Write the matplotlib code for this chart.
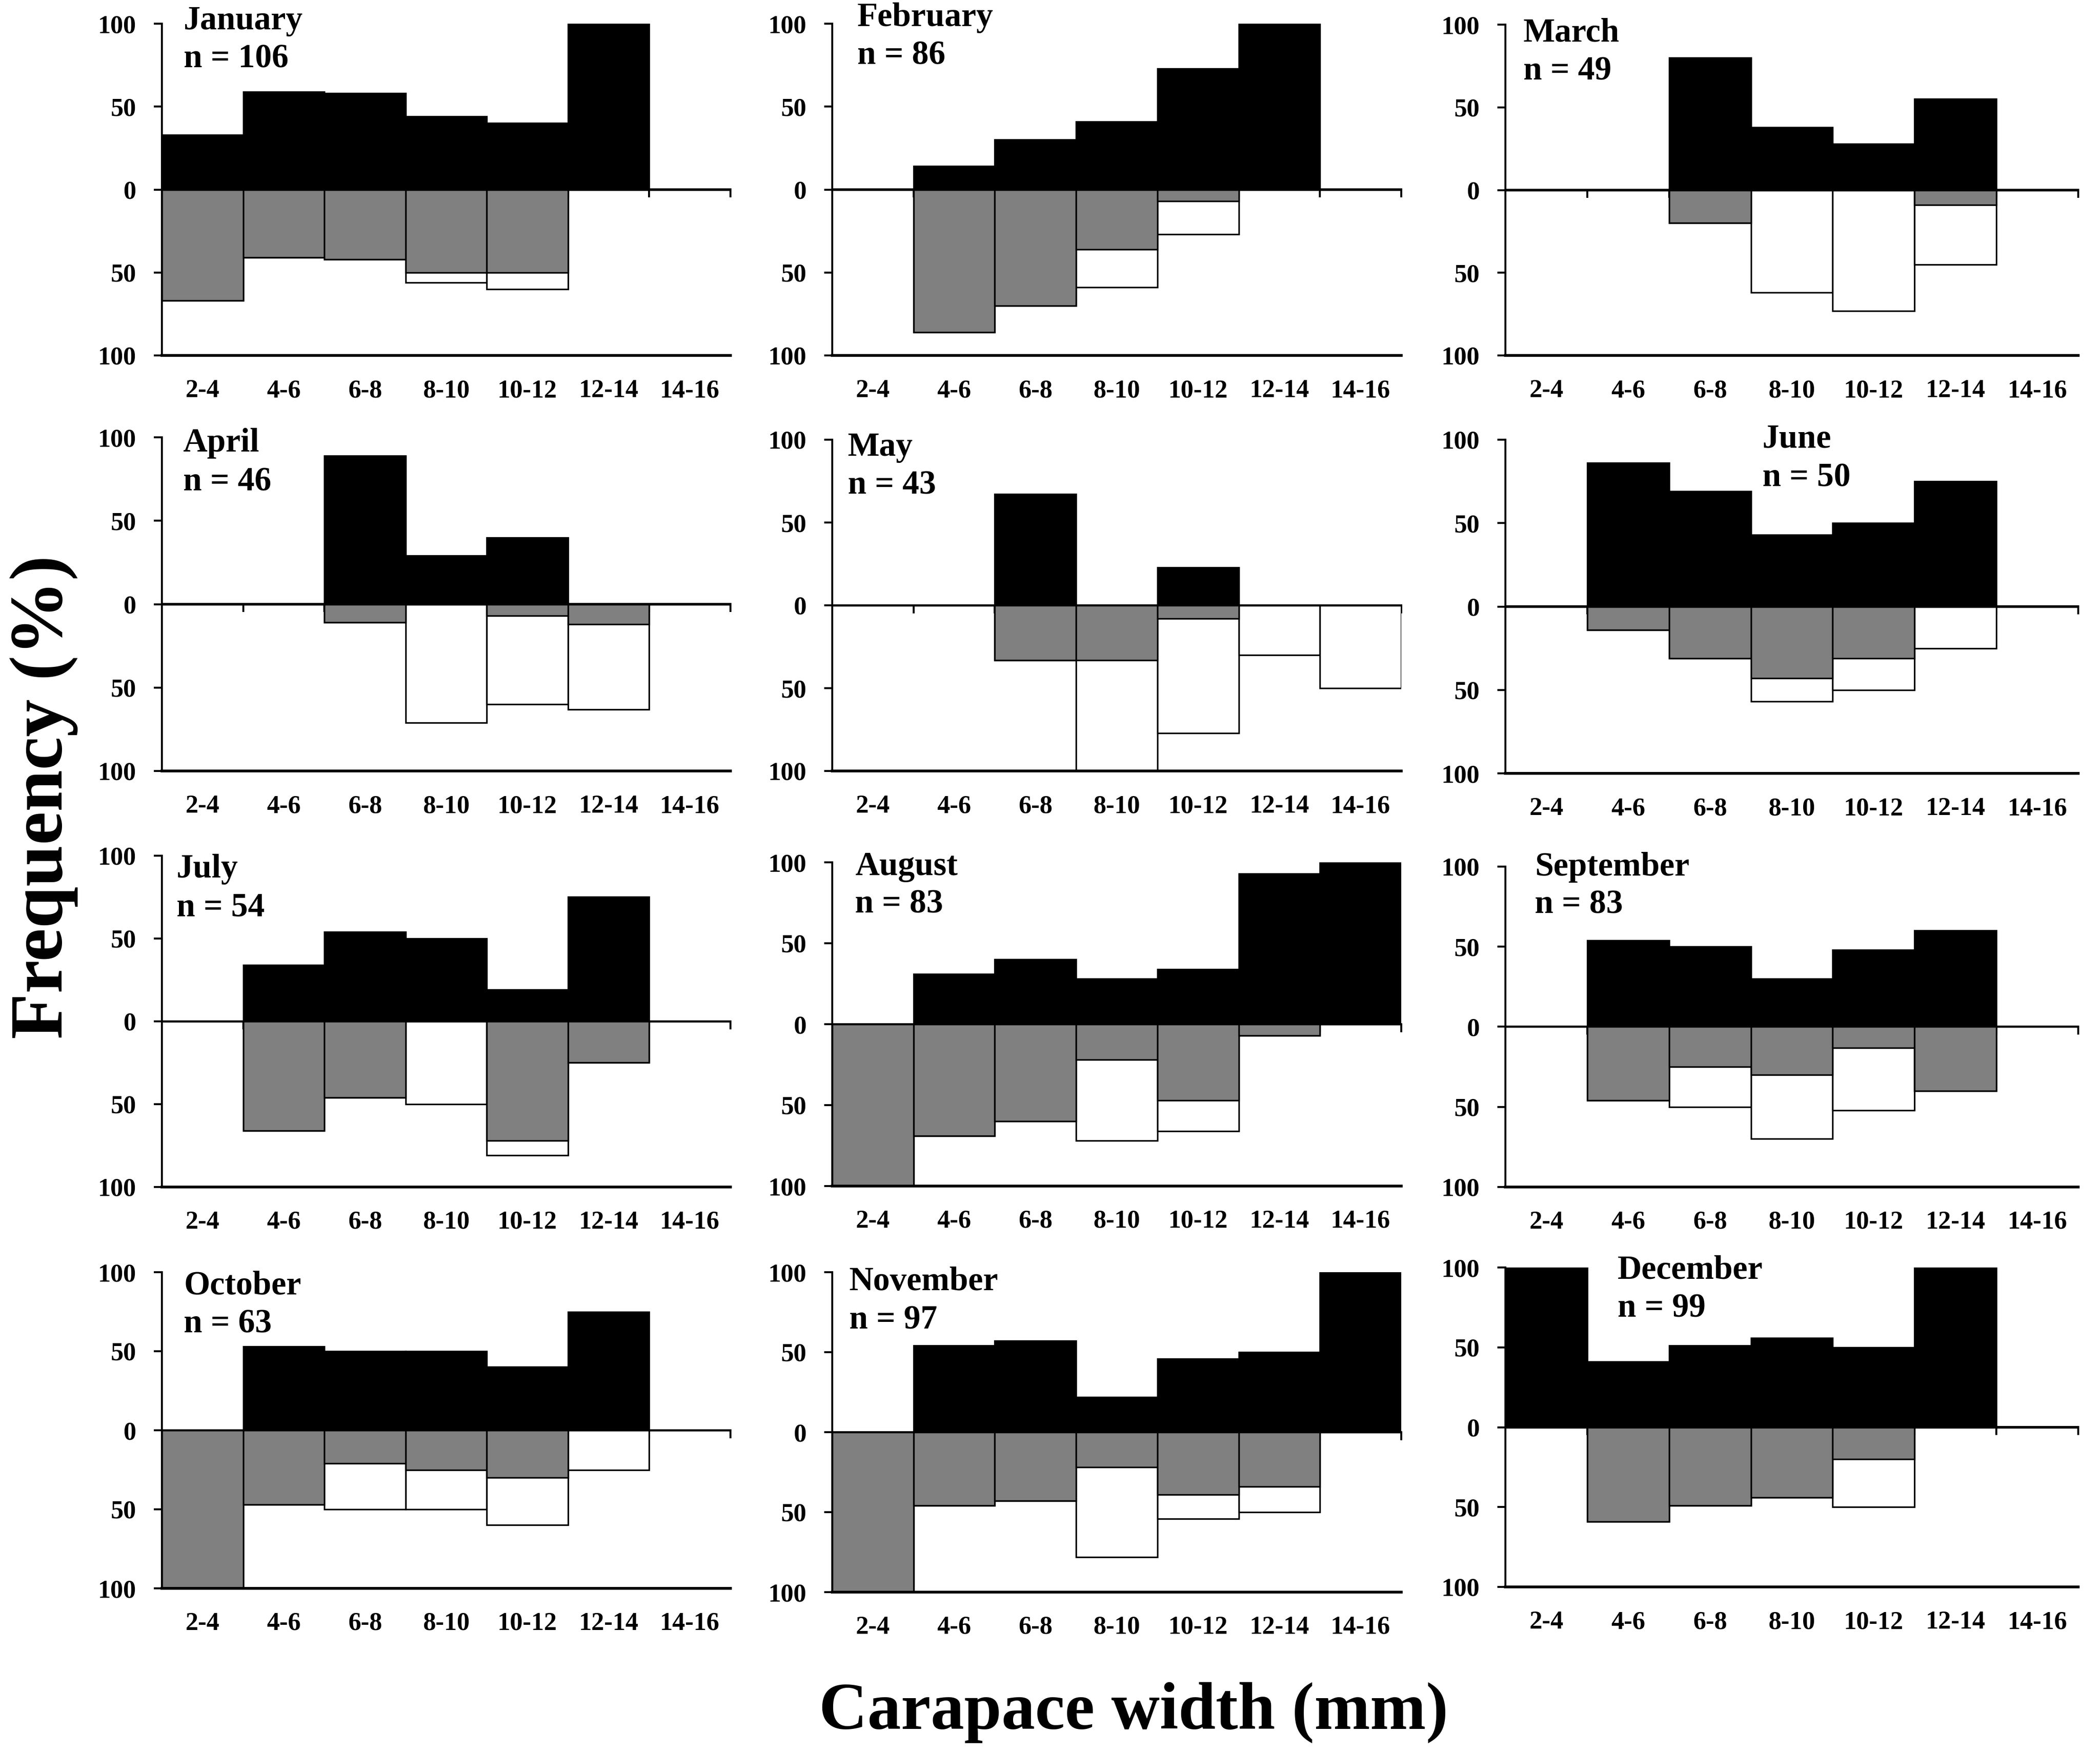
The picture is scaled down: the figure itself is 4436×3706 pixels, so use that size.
import numpy as np
import matplotlib
matplotlib.use('Agg')
import matplotlib.pyplot as plt

plt.rcParams['font.family'] = ['Liberation Serif', 'DejaVu Serif']
plt.rcParams['font.weight'] = 'bold'

size_classes = ['2-4', '4-6', '6-8', '8-10', '10-12', '12-14', '14-16']
months = ['January', 'February', 'March', 'April', 'May', 'June',
          'July', 'August', 'September', 'October', 'November', 'December']
n_crabs = [106, 86, 49, 46, 43, 50, 54, 83, 83, 63, 97, 99]

# black bars, upward (%)
black = [
    [33, 59, 58, 44, 40, 100, 0],
    [0, 14, 30, 41, 73, 100, 0],
    [0, 0, 80, 38, 28, 55, 0],
    [0, 0, 89, 29, 40, 0, 0],
    [0, 0, 67, 0, 23, 0, 0],
    [0, 86, 69, 43, 50, 75, 0],
    [0, 34, 54, 50, 19, 75, 0],
    [0, 31, 40, 28, 34, 93, 100],
    [0, 54, 50, 30, 48, 60, 0],
    [0, 53, 50, 50, 40, 75, 0],
    [0, 54, 57, 22, 46, 50, 100],
    [100, 41, 51, 56, 50, 100, 0],
]
# grey part of the downward bars (%)
grey = [
    [67, 41, 42, 50, 50, 0, 0],
    [0, 86, 70, 36, 7, 0, 0],
    [0, 0, 20, 0, 0, 9, 0],
    [0, 0, 11, 0, 7, 12, 0],
    [0, 0, 33, 33, 8, 0, 0],
    [0, 14, 31, 43, 31, 0, 0],
    [0, 66, 46, 0, 72, 25, 0],
    [100, 69, 60, 22, 47, 7, 0],
    [0, 46, 25, 30, 13, 40, 0],
    [100, 47, 21, 25, 30, 0, 0],
    [100, 46, 43, 22, 39, 34, 0],
    [0, 59, 49, 44, 20, 0, 0],
]
# total length of the downward bars (grey + white) (%)
total_down = [
    [67, 41, 42, 56, 60, 0, 0],
    [0, 86, 70, 59, 27, 0, 0],
    [0, 0, 20, 62, 73, 45, 0],
    [0, 0, 11, 71, 60, 63, 0],
    [0, 0, 33, 100, 77, 30, 50],
    [0, 14, 31, 57, 50, 25, 0],
    [0, 66, 46, 50, 81, 25, 0],
    [100, 69, 60, 72, 66, 7, 0],
    [0, 46, 50, 70, 52, 40, 0],
    [100, 47, 50, 50, 60, 25, 0],
    [100, 46, 43, 78, 54, 50, 0],
    [0, 59, 49, 44, 50, 0, 0],
]

# panel boxes in pixels: left, right, top (y=100), bottom (y=-100)
W, H = 4436, 3706
boxes = [
    (342, 1543, 50, 751), (1758, 2960, 50, 751), (3180, 4390, 52, 751),
    (342, 1543, 924, 1629), (1758, 2960, 929, 1629), (3180, 4390, 929, 1634),
    (342, 1543, 1808, 2508), (1758, 2960, 1822, 2506), (3180, 4390, 1831, 2508),
    (342, 1543, 2688, 3356), (1758, 2960, 2688, 3364), (3180, 4390, 2678, 3353),
]
# label placement (x in category units, baselines in y units)
lab_x = [-0.23, -0.19, -0.28, -0.24, -0.31, 2.64, -0.32, -0.22, -0.14, -0.23, -0.29, 0.87]
lab_y1 = [96.7, 98.6, 89.9, 91.4, 90.3, 95.2, 86.8, 92, 94.5, 86, 88.7, 93]
lab_y2 = [73.6, 75.7, 66.7, 68.2, 67.4, 72, 63.7, 68.9, 70.8, 61.7, 64.6, 68.9]

fig = plt.figure(figsize=(W / 300, H / 300), dpi=300)
x = np.arange(len(size_classes))
lw = 1.0

for i, month in enumerate(months):
    l, r, t, b = boxes[i]
    ax = fig.add_axes([l / W, 1 - b / H, (r - l) / W, (b - t) / H])
    ax.bar(x, -np.array(total_down[i]), width=1.0, color='white',
           edgecolor='black', linewidth=0.8)
    ax.bar(x, -np.array(grey[i]), width=1.0, color='#808080',
           edgecolor='black', linewidth=0.8)
    ax.bar(x, black[i], width=1.0, color='black', edgecolor='black',
           linewidth=0.8)
    ax.set_xlim(-0.5, 6.5)
    ax.set_ylim(-100, 100)
    for s in ['top', 'right']:
        ax.spines[s].set_visible(False)
    ax.spines['left'].set_linewidth(lw)
    ax.spines['bottom'].set_linewidth(1.4)
    ax.set_yticks([-100, -50, 0, 50, 100])
    ax.set_yticklabels(['100', '50', '0', '50', '100'])
    ax.set_xticks(x)
    ax.set_xticklabels(size_classes)
    ax.tick_params(axis='y', direction='out', length=4, width=lw,
                   labelsize=13, pad=9)
    ax.tick_params(axis='x', length=0, labelsize=13, pad=12)
    # category axis crossing at zero, ticks between classes
    sec = ax.secondary_xaxis(0.5)
    sec.set_xticks(x + 0.5)
    sec.tick_params(axis='x', direction='in', length=4, width=lw,
                    labeltop=False, labelbottom=False)
    for s in sec.spines.values():
        s.set_linewidth(lw)
    ax.text(lab_x[i], lab_y1[i], month, fontsize=17, fontweight='bold',
            ha='left', va='baseline', clip_on=False)
    ax.text(lab_x[i], lab_y2[i], 'n = %d' % n_crabs[i], fontsize=17,
            fontweight='bold', ha='left', va='baseline', clip_on=False)

fig.text(93 / W, 1 - 1684 / H, 'Frequency (%)', rotation=90, fontsize=38,
         fontweight='bold', ha='center', va='center')
fig.text(2395 / W, 1 - 3618 / H, 'Carapace width (mm)', fontsize=34,
         fontweight='bold', ha='center', va='center')

fig.savefig('out.png', dpi=300)
